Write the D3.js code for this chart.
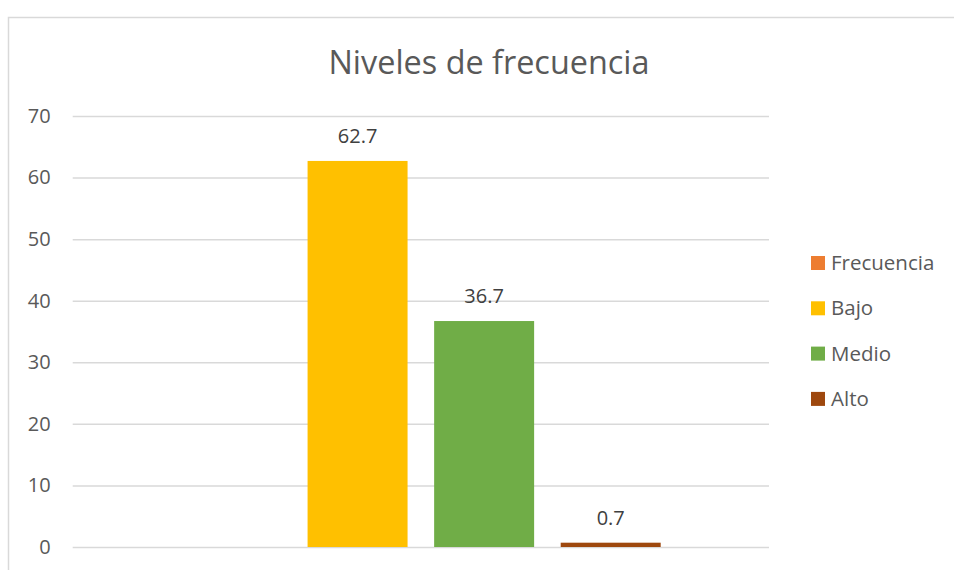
<!DOCTYPE html>
<html>
<head>
<meta charset="utf-8">
<script src="https://cdn.jsdelivr.net/npm/d3@7"></script>
<style>
  body { margin: 0; background: #fff; }
  svg { font-family: "Open Sans", sans-serif; }
</style>
</head>
<body>
<div id="chart"></div>
<script>
// data
let categories = ["Niveles"]
let seriesNames = ["Frecuencia", "Bajo", "Medio", "Alto"]
let seriesValues = [null, 62.7, 36.7, 0.7]
let seriesColors = ["#ED7D31", "#FFC000", "#70AD47", "#9E480E"]
let yTicks = [0, 10, 20, 30, 40, 50, 60, 70]

let width = 954
    height = 570

let plot = { left: 72.7, right: 769, top: 116, bottom: 547 }

let svg = d3.select("#chart")
  .append("svg")
    .attr("width", width)
    .attr("height", height)

// chart frame (clipped by the window on the right and bottom)
svg.append("rect")
  .attr("x", 8.5).attr("y", 17.5)
  .attr("width", 960).attr("height", 600)
  .attr("fill", "none")
  .attr("stroke", "#D9D9D9")
  .attr("stroke-width", 1.5)

svg.append("text")
  .attr("x", 489).attr("y", 74)
  .attr("text-anchor", "middle")
  .style("font-size", "32.4px")
  .attr("fill", "#595959")
  .text("Niveles de frecuencia")

let y = d3.scaleLinear().domain([0, 70]).range([plot.bottom, plot.top])

let x0 = d3.scaleBand()
  .domain(categories)
  .range([plot.left, plot.right])
  .paddingOuter(0.1877)
  .paddingInner(0)

let x1 = d3.scaleBand()
  .domain(seriesNames)
  .range([0, x0.bandwidth()])
  .paddingInner(0.21)
  .paddingOuter(0.105)

// gridlines + tick labels
let yAxis = svg.append("g")
  .attr("transform", "translate(" + plot.left + ",0)")
  .call(d3.axisLeft(y).tickValues(yTicks).tickSize(-(plot.right - plot.left)).tickPadding(22))

yAxis.select(".domain").remove()
yAxis.selectAll(".tick line").attr("stroke", "#D9D9D9").attr("stroke-width", 1.5)
yAxis.selectAll(".tick text")
  .attr("fill", "#595959")
  .style("font-size", "20px")
  .style("font-family", "Open Sans, sans-serif")

let rows = seriesNames.map(function(s, i) { return { key: s, value: seriesValues[i], color: seriesColors[i] } })
let drawn = rows.filter(function(d) { return d.value != null })

let group = svg.append("g")
  .attr("transform", "translate(" + x0(categories[0]) + ",0)")

group.selectAll("rect")
  .data(drawn)
  .enter()
  .append("rect")
    .attr("x", function(d) { return x1(d.key) })
    .attr("y", function(d) { return y(d.value) })
    .attr("width", x1.bandwidth())
    .attr("height", function(d) { return y(0) - y(d.value) })
    .attr("fill", function(d) { return d.color })

group.selectAll("text.lbl")
  .data(drawn)
  .enter()
  .append("text")
    .attr("class", "lbl")
    .attr("x", function(d) { return x1(d.key) + x1.bandwidth() / 2 })
    .attr("y", function(d) { return y(d.value) - 18 })
    .attr("text-anchor", "middle")
    .attr("fill", "#404040")
    .style("font-size", "20px")
    .text(function(d) { return d3.format(".1f")(d.value) })

// legend
let legend = svg.append("g")
  .selectAll("g")
  .data(rows)
  .enter()
  .append("g")
    .attr("transform", function(d, i) { return "translate(811," + (263 + i * 45.3) + ")" })

legend.append("rect")
  .attr("x", 0).attr("y", -7)
  .attr("width", 14).attr("height", 14)
  .attr("fill", function(d) { return d.color })

legend.append("text")
  .attr("x", 20).attr("y", 0)
  .attr("dy", "0.35em")
  .attr("fill", "#595959")
  .style("font-size", "20.5px")
  .text(function(d) { return d.key })
</script>
</body>
</html>
